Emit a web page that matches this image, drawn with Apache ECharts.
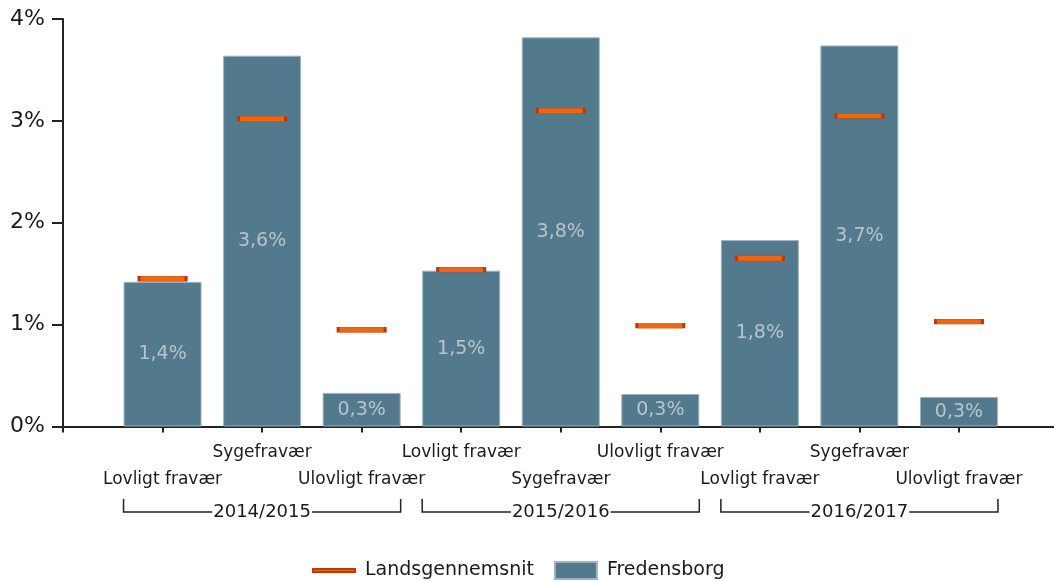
<!DOCTYPE html>
<html>
<head>
<meta charset="utf-8">
<style>
  html, body { margin: 0; padding: 0; background: #ffffff; }
  #chart { width: 1054px; height: 581px; }
</style>
<script src="https://cdn.jsdelivr.net/npm/echarts@6/dist/echarts.min.js"></script>
</head>
<body>
<div id="chart"></div>
<script>
// Absence categories, one per bar, grouped three per school year
const categories = [
  'Lovligt fravær', 'Sygefravær', 'Ulovligt fravær',
  'Lovligt fravær', 'Sygefravær', 'Ulovligt fravær',
  'Lovligt fravær', 'Sygefravær', 'Ulovligt fravær'
];
const periods = ['2014/2015', '2015/2016', '2016/2017'];

// Absence in percent
const fredensborg = [1.42, 3.64, 0.33, 1.53, 3.82, 0.32, 1.83, 3.74, 0.29];
const landsgennemsnit = [1.45, 3.02, 0.95, 1.54, 3.10, 0.99, 1.65, 3.05, 1.03];

// Y axis range and step
const yMin = 0, yMax = 4, yStep = 1;

const FONT = 'DejaVu Sans';
const BAR_W = 78;

const chart = echarts.init(document.getElementById('chart'), null, { renderer: 'canvas' });

const fmtPct = v => v.toFixed(1).replace('.', ',') + '%';

chart.setOption({
  animation: false,
  backgroundColor: '#ffffff',
  textStyle: { fontFamily: FONT },
  grid: {
    left: 63, width: 995.5, top: 19, height: 407.5,
    containLabel: false, outerBoundsMode: 'none'
  },
  legend: {
    left: 307,
    top: 556,
    itemWidth: 42,
    itemHeight: 17,
    itemGap: 20,
    symbolKeepAspect: true,
    textStyle: { fontFamily: FONT, fontSize: 19, color: '#1a1a1a', padding: [0, 0, 0, 5] },
    data: [
      { name: 'Landsgennemsnit', icon: 'path://M0,0H42V3H0Z' },
      { name: 'Fredensborg', icon: 'rect' }
    ]
  },
  xAxis: {
    type: 'value',
    min: -1,
    max: categories.length,
    interval: 1,
    splitLine: { show: false },
    axisLine: { show: true, onZero: false, lineStyle: { color: '#222', width: 2 } },
    axisTick: { show: true, length: 6, lineStyle: { color: '#222', width: 2 } },
    axisLabel: {
      show: true,
      margin: 13,
      showMinLabel: true,
      showMaxLabel: true,
      fontFamily: FONT,
      fontSize: 17,
      lineHeight: 27,
      color: '#1a1a1a',
      formatter: function (v) {
        const i = Math.round(v);
        if (i < 0 || i >= categories.length) return '';
        return (i % 2 === 0 ? '\n' : '') + categories[i];
      }
    }
  },
  yAxis: {
    type: 'value',
    min: yMin,
    max: yMax,
    interval: yStep,
    splitLine: { show: false },
    axisLine: { show: true, onZero: false, lineStyle: { color: '#222', width: 2 } },
    axisTick: { show: true, length: 11, lineStyle: { color: '#222', width: 2 } },
    axisLabel: {
      margin: 18,
      fontFamily: FONT,
      fontSize: 22,
      color: '#1a1a1a',
      formatter: '{value}%'
    }
  },
  series: [
    {
      name: 'Fredensborg',
      type: 'bar',
      barWidth: BAR_W,
      data: fredensborg.map((v, i) => [i, v]),
      itemStyle: { color: '#537a8c', borderColor: '#9fb4bf', borderWidth: 1 },
      label: {
        show: true,
        position: 'inside',
        fontFamily: FONT,
        fontSize: 19,
        color: '#b7c4cb',
        formatter: p => fmtPct(p.value[1])
      },
      z: 2
    },
    {
      name: 'Landsgennemsnit',
      type: 'scatter',
      symbol: 'rect',
      symbolSize: [47, 5],
      data: landsgennemsnit.map((v, i) => [i, v]),
      itemStyle: { color: '#f2650f', borderColor: '#b8390c', borderWidth: 1, opacity: 1 },
      z: 3
    }
  ]
});

// Group brackets with the school-year labels under the category labels
function drawBrackets() {
  const y0 = chart.convertToPixel({ yAxisIndex: 0 }, 0);
  const lineY = y0 + 85.5;
  const topY = lineY - 13;
  const elements = [];
  periods.forEach((p, g) => {
    const first = g * 3, last = g * 3 + 2;
    const x1 = chart.convertToPixel({ xAxisIndex: 0 }, first) - BAR_W / 2;
    const x2 = chart.convertToPixel({ xAxisIndex: 0 }, last) + BAR_W / 2;
    const xc = chart.convertToPixel({ xAxisIndex: 0 }, first + 1);
    elements.push({
      type: 'polyline',
      shape: { points: [[x1, topY], [x1, lineY], [x2, lineY], [x2, topY]] },
      style: { stroke: '#222', lineWidth: 1.5, fill: null },
      silent: true
    });
    elements.push({
      type: 'text',
      x: xc,
      y: lineY,
      style: {
        text: p,
        fontFamily: FONT,
        fontSize: 18,
        fill: '#1a1a1a',
        align: 'center',
        verticalAlign: 'middle',
        backgroundColor: '#ffffff',
        padding: [0, 1]
      },
      z: 10,
      silent: true
    });
  });
  chart.setOption({ graphic: { elements: elements } });
}
drawBrackets();
</script>
</body>
</html>
